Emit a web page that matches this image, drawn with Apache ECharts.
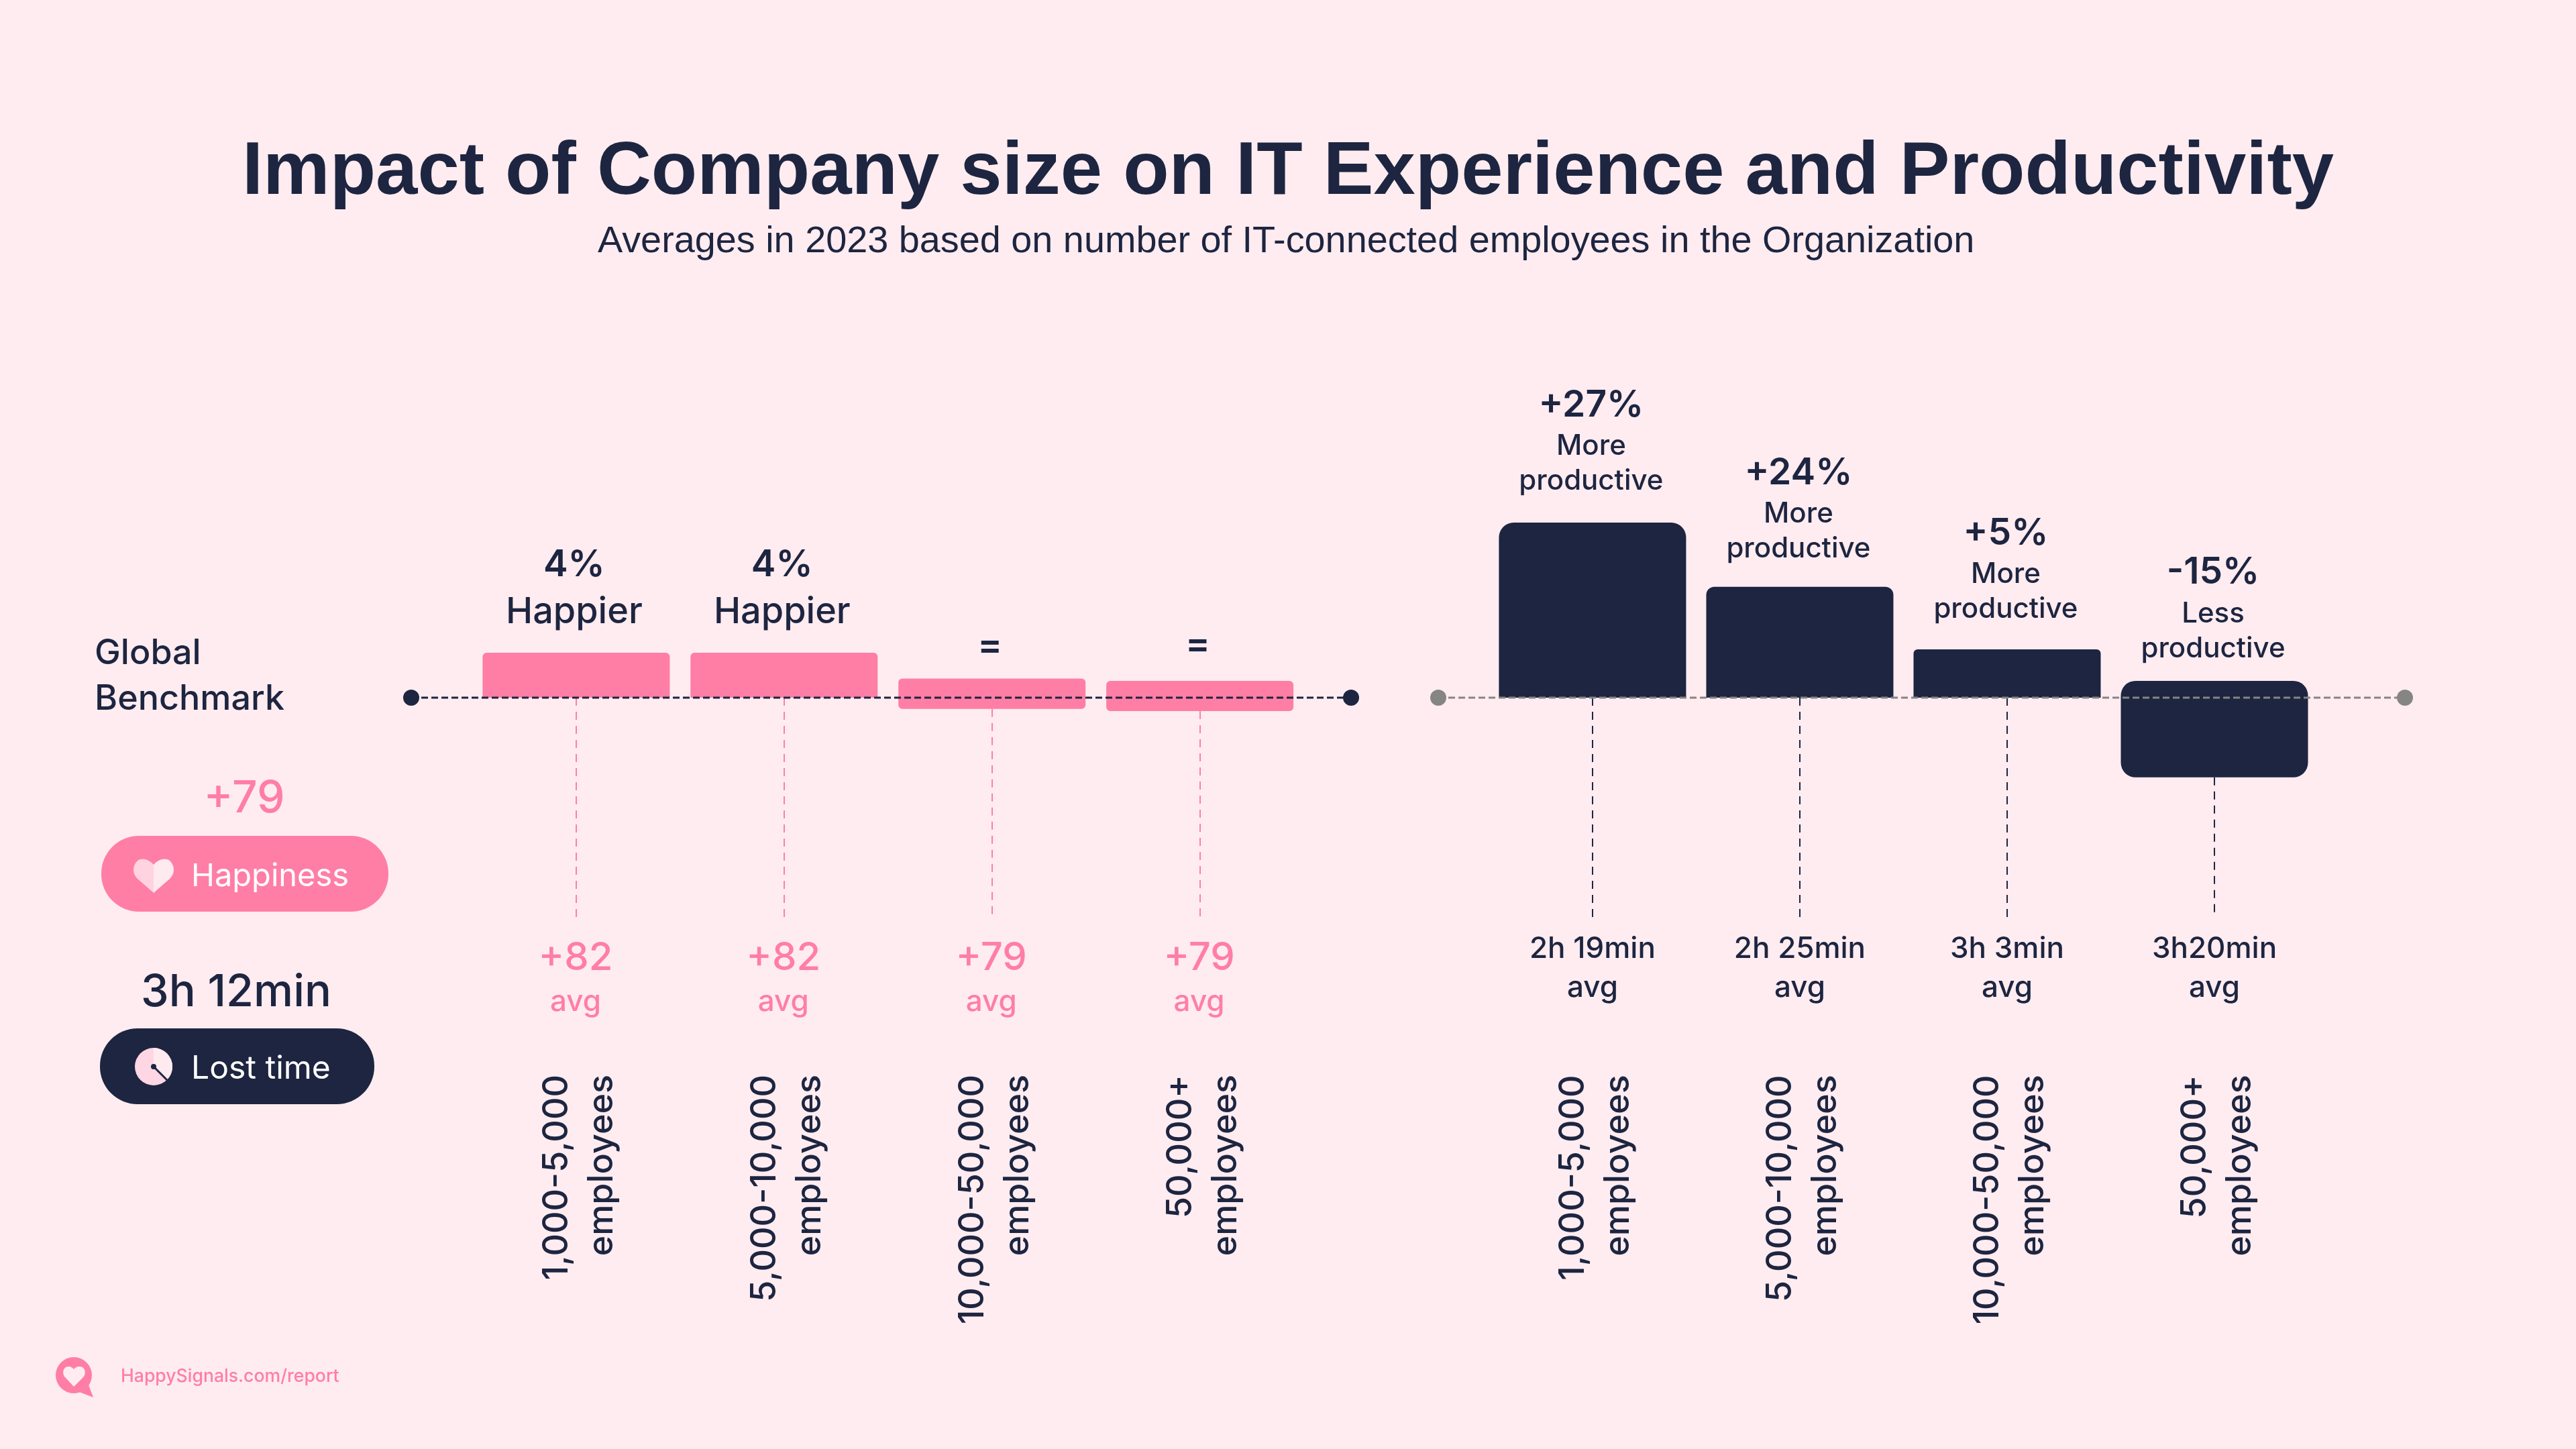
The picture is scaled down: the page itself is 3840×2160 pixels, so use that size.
<!DOCTYPE html>
<html>
<head>
<meta charset="utf-8">
<title>Impact of Company size on IT Experience and Productivity</title>
<script src="https://cdn.jsdelivr.net/npm/echarts@6/dist/echarts.min.js"></script>
<style>
html, body { margin: 0; padding: 0; background: #ffecf0; }
#main { width: 3840px; height: 2160px; }
</style>
</head>
<body>
<div id="main"></div>
<script>
// company size bands, same for both panels
var sizeBands = ['1,000-5,000', '5,000-10,000', '10,000-50,000', '50,000+'];

// happiness panel, bar extent above and below the benchmark line
var happinessAbove = [4, 4, 1.7, 1.5];
var happinessBelow = [0, 0, -1, -1.2];
var happinessChange = ['4%', '4%', '=', '='];
var happinessWord = ['Happier', 'Happier', '', ''];
var happinessAvg = ['+82', '+82', '+79', '+79'];

// lost time panel
var productivityAbove = [27, 17.1, 7.45, 2.6];
var productivityBelow = [0, 0, 0, -12.3];
var productivityChange = ['+27%', '+24%', '+5%', '-15%'];
var productivityWord = ['More', 'More', 'More', 'Less'];
var productivityAvg = ['2h 19min', '2h 25min', '3h 3min', '3h20min'];

var benchmarkHappiness = '+79';
var benchmarkTime = '3h 12min';

var PINK = '#ff7ea5';
var NAVY = '#1d2540';
var GREY = '#858585';
var PAPER = '#ffecf0';
var BODY_FONT = 'Inter';

// the graphic component has no free path type, so the icons get registered
echarts.graphic.registerShape('heartLeft', echarts.graphic.extendPath('M229 1289C222 1281 212 1278 205 1283C197 1290 197 1303 205 1310L229 1331Z'));
echarts.graphic.registerShape('heartRight', echarts.graphic.extendPath('M229 1289C236 1281 246 1278 253 1283C261 1290 261 1303 253 1310L229 1331Z'));
echarts.graphic.registerShape('logoTail', echarts.graphic.extendPath('M131 2062L139 2083L118 2075Z'));
echarts.graphic.registerShape('logoHeart', echarts.graphic.extendPath('M110 2041C106 2036 99 2036 96 2040C93 2044 94 2050 97 2053L110 2067L124 2053C127 2050 128 2044 125 2040C122 2036 114 2036 110 2041Z'));

function stemLines(below, stemEnd) {
    return below.map(function (v, i) {
        return [{ coord: [i, v] }, { coord: [i, stemEnd] }];
    });
}

/**
 * one panel: stacked bars either side of zero, dashed benchmark line,
 * dashed stems, avg labels and rotated size labels
 */
function panelSeries(p) {
    var idx = p.index;
    return [
        {
            type: 'bar', xAxisIndex: idx, yAxisIndex: idx, stack: 'b' + idx, barWidth: 279,
            data: p.above.map(function (v, i) {
                var r = p.radius[i];
                return {
                    value: [i, v],
                    itemStyle: { color: p.barColor, borderRadius: [r, r, 0, 0] },
                    label: { distance: p.labelDistance[i] }
                };
            }),
            label: {
                show: true, position: 'top', align: 'center', offset: [p.topOffset, 0],
                formatter: function (o) { return p.topLabel(o.dataIndex); },
                rich: p.topRich
            }
        },
        {
            type: 'bar', xAxisIndex: idx, yAxisIndex: idx, stack: 'b' + idx, barWidth: 279,
            data: p.below.map(function (v, i) {
                var r = p.radius[i];
                return { value: [i, v], itemStyle: { color: p.barColor, borderRadius: [0, 0, r, r] } };
            }),
            markLine: {
                silent: true, symbol: 'none', animation: false,
                label: { show: false },
                lineStyle: { color: p.stemColor, width: 2, type: [12, 9], opacity: 1 },
                data: stemLines(p.below, p.stemEnd)
            }
        },
        {
            type: 'line', xAxisIndex: idx, yAxisIndex: idx, clip: false, z: 5,
            symbol: 'circle', symbolSize: 24,
            itemStyle: { color: p.lineColor },
            lineStyle: { color: p.lineColor, width: 3, type: [10, 5] },
            data: [[p.xMin, 0], [p.xMax, 0]]
        },
        {
            // avg labels hang from the stem ends
            type: 'scatter', xAxisIndex: idx, yAxisIndex: idx, symbolSize: 1,
            itemStyle: { color: 'transparent', opacity: 1 },
            data: p.avg.map(function (v, i) { return [i, p.stemEnd]; }),
            label: {
                show: true, position: 'bottom', distance: p.avgDistance, offset: [p.avgOffset, 0],
                formatter: function (o) { return '{big|' + p.avg[o.dataIndex] + '}\n{small|avg}'; },
                rich: p.avgRich
            }
        },
        {
            type: 'scatter', xAxisIndex: idx, yAxisIndex: idx, symbolSize: 1,
            itemStyle: { color: 'transparent', opacity: 1 },
            data: sizeBands.map(function (v, i) { return [i, p.sizeLabelAt]; }),
            label: {
                show: true, position: 'inside', rotate: 90, align: 'right', verticalAlign: 'middle',
                offset: [2, 5],  // offset turns with the label
                color: NAVY, fontFamily: BODY_FONT, fontWeight: 500, fontSize: 52, lineHeight: 67,
                formatter: function (o) { return sizeBands[o.dataIndex] + '\nemployees'; }
            }
        }
    ];
}

function txt(text, x, y, size, color, weight, align) {
    return {
        type: 'text', x: x, y: y, silent: true,
        style: {
            text: text, fill: color, textAlign: align || 'left', textVerticalAlign: 'middle',
            font: (weight || 500) + ' ' + size + 'px ' + BODY_FONT
        }
    };
}

function shape(type, shapeOpt, fill, extra) {
    var el = { type: type, shape: shapeOpt, style: { fill: fill }, silent: true };
    if (extra) { el.style = extra; }
    return el;
}

var happinessPanel = {
    index: 0, above: happinessAbove, below: happinessBelow, avg: happinessAvg,
    barColor: PINK, stemColor: PINK, lineColor: NAVY,
    radius: [6, 6, 6, 6], labelDistance: [24, 24, 14, 19], topOffset: -3,
    xMin: -0.7935, xMax: 3.7273, stemEnd: -19.6, sizeLabelAt: -33.67, avgDistance: 26, avgOffset: -1,
    topLabel: function (i) {
        if (!happinessWord[i]) { return '{big|' + happinessChange[i] + '}'; }
        return '{big|' + happinessChange[i] + '}\n{word|' + happinessWord[i] + '}';
    },
    topRich: {
        big: { color: NAVY, fontFamily: BODY_FONT, fontWeight: 600, fontSize: 55, lineHeight: 68 },
        word: { color: NAVY, fontFamily: BODY_FONT, fontWeight: 500, fontSize: 54, lineHeight: 73 }
    },
    avgRich: {
        big: { color: PINK, fontFamily: BODY_FONT, fontWeight: 500, fontSize: 58, lineHeight: 68 },
        small: { color: PINK, fontFamily: BODY_FONT, fontWeight: 500, fontSize: 44, lineHeight: 62 }
    }
};

var productivityPanel = {
    index: 1, above: productivityAbove, below: productivityBelow, avg: productivityAvg,
    barColor: NAVY, stemColor: NAVY, lineColor: GREY,
    radius: [22, 12, 6, 22], labelDistance: [36, 30, 34, 22], topOffset: -2,
    xMin: -0.744, xMax: 3.919, stemEnd: -33.9, sizeLabelAt: -58.4, avgDistance: 18, avgOffset: 0,
    topLabel: function (i) {
        return '{big|' + productivityChange[i] + '}\n{word|' + productivityWord[i] + '}\n{word|productive}';
    },
    topRich: {
        big: { color: NAVY, fontFamily: BODY_FONT, fontWeight: 600, fontSize: 55, lineHeight: 70 },
        word: { color: NAVY, fontFamily: BODY_FONT, fontWeight: 500, fontSize: 42, lineHeight: 52 }
    },
    avgRich: {
        big: { color: NAVY, fontFamily: BODY_FONT, fontWeight: 500, fontSize: 44, lineHeight: 58 },
        small: { color: NAVY, fontFamily: BODY_FONT, fontWeight: 500, fontSize: 44, lineHeight: 58 }
    }
};

var option = {
    animation: false,
    backgroundColor: PAPER,
    title: [
        {
            text: 'Impact of Company size on IT Experience and Productivity',
            left: 'center', top: 197,
            textStyle: { color: NAVY, fontFamily: 'Liberation Sans', fontWeight: 700, fontSize: 112 }
        },
        {
            text: 'Averages in 2023 based on number of IT-connected employees in the Organization',
            left: 886, top: 328,
            textStyle: { color: NAVY, fontFamily: 'Liberation Sans', fontWeight: 400, fontSize: 55.8 }
        }
    ],
    grid: [
        { left: 613, width: 1401, top: 537.5, height: 1507.5 },
        { left: 2144, width: 1441, top: 537.5, height: 1507.5 }
    ],
    xAxis: [
        { gridIndex: 0, type: 'value', min: happinessPanel.xMin, max: happinessPanel.xMax, show: false },
        { gridIndex: 1, type: 'value', min: productivityPanel.xMin, max: productivityPanel.xMax, show: false }
    ],
    yAxis: [
        { gridIndex: 0, type: 'value', min: -60, max: 30, show: false },
        { gridIndex: 1, type: 'value', min: -104, max: 52, show: false }
    ],
    series: panelSeries(happinessPanel).concat(panelSeries(productivityPanel)),
    graphic: [
        txt('Global', 141, 974, 52, NAVY),
        txt('Benchmark', 141, 1042, 52, NAVY),
        txt(benchmarkHappiness, 364, 1191, 66, PINK, 500, 'center'),
        shape('rect', { x: 151, y: 1246, width: 428, height: 113, r: 56 }, PINK),
        shape('heartLeft', {}, '#ffd3df'),
        shape('heartRight', {}, '#ffeaef'),
        txt('Happiness', 285, 1307, 47, '#ffffff', 400),
        txt(benchmarkTime, 352, 1480, 66.5, NAVY, 500, 'center'),
        shape('rect', { x: 149, y: 1533, width: 409, height: 113, r: 56 }, NAVY),
        shape('circle', { cx: 229, cy: 1590, r: 28 }, '#ffd6e3'),
        shape('sector', { cx: 229, cy: 1590, r: 28, r0: 0, startAngle: -Math.PI / 2, endAngle: Math.PI / 4 }, '#ffeaef'),
        shape('line', { x1: 229, y1: 1590, x2: 249, y2: 1610 }, null, { stroke: NAVY, lineWidth: 3 }),
        shape('circle', { cx: 229, cy: 1590, r: 4 }, NAVY),
        txt('Lost time', 285, 1594, 48, '#ffffff', 400),
        shape('circle', { cx: 110, cy: 2050, r: 27 }, PINK),
        shape('logoTail', {}, PINK),
        shape('logoHeart', {}, PAPER),
        txt('HappySignals.com/report', 180, 2052, 26.6, PINK, 500)
    ]
};

var myChart = echarts.init(document.getElementById('main'));
myChart.setOption(option);
</script>
</body>
</html>
